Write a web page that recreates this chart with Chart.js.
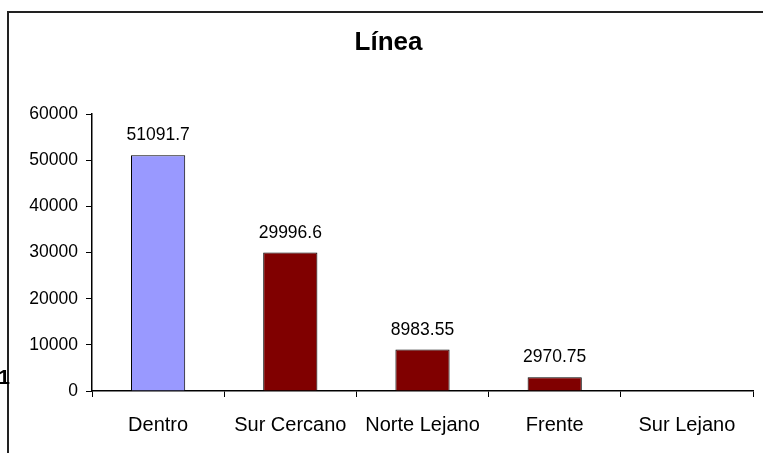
<!DOCTYPE html>
<html>
<head>
<meta charset="utf-8">
<script src="https://cdn.jsdelivr.net/npm/chart.js@4"></script>
<style>
  html, body { margin: 0; padding: 0; background: #fff; overflow: hidden; }
  #wrap { position: relative; width: 776px; height: 453px; }
</style>
</head>
<body>
<div id="wrap"><canvas id="chart" width="776" height="453"></canvas></div>
<script>
const categories = ['Dentro', 'Sur Cercano', 'Norte Lejano', 'Frente', 'Sur Lejano'];
const values = [51091.7, 29996.6, 8983.55, 2970.75, 0];
const barColors = ['#9999FF', '#800000', '#800000', '#800000', '#800000'];
const valueLabels = ['51091.7', '29996.6', '8983.55', '2970.75', ''];
const chartTitle = 'Línea';

const FONT = '"Liberation Sans", Arial, sans-serif';

// value labels above bars, outer frame and the stray clipped "1"
const extras = {
  id: 'extras',
  afterDatasetsDraw(chart) {
    const ctx = chart.ctx;
    const meta = chart.getDatasetMeta(0);
    ctx.save();
    ctx.fillStyle = '#000';
    ctx.font = '17.5px ' + FONT;
    ctx.textAlign = 'center';
    ctx.textBaseline = 'alphabetic';
    meta.data.forEach((bar, i) => {
      if (!valueLabels[i]) return;
      ctx.fillText(valueLabels[i], bar.x, bar.y - 15);
    });
    ctx.restore();
  },
  afterDraw(chart) {
    const ctx = chart.ctx;
    ctx.save();
    ctx.strokeStyle = '#222';
    ctx.lineWidth = 2;
    ctx.strokeRect(8, 12, 1000, 1000);
    ctx.fillStyle = '#000';
    ctx.font = 'bold 21px ' + FONT;
    ctx.textAlign = 'right';
    ctx.fillText('1', 10, 384);
    ctx.restore();
  }
};

new Chart(document.getElementById('chart'), {
  type: 'bar',
  data: {
    labels: categories,
    datasets: [{
      data: values,
      backgroundColor: barColors,
      borderColor: '#000',
      borderWidth: 1,
      barPercentage: 0.41,
      categoryPercentage: 1
    }]
  },
  options: {
    responsive: false,
    animation: false,
    layout: { padding: { left: 24, right: 23, top: 0, bottom: 0 } },
    plugins: {
      legend: { display: false },
      tooltip: { enabled: false },
      title: {
        display: true,
        text: chartTitle,
        color: '#000',
        font: { family: FONT, size: 26, weight: 'bold' },
        padding: { top: 27, bottom: 56 }
      }
    },
    scales: {
      x: {
        afterFit(scale) { scale.height = 62; },
        grid: { drawOnChartArea: false, drawTicks: true, tickLength: 6, color: '#000', offset: true },
        border: { color: '#000', width: 1.5 },
        ticks: { color: '#000', font: { family: FONT, size: 20 }, padding: 16, maxRotation: 0 }
      },
      y: {
        min: 0,
        max: 60000,
        afterFit(scale) { scale.width = 68; },
        grid: { drawOnChartArea: false, drawTicks: true, tickLength: 6, color: '#000' },
        border: { color: '#000', width: 1.5 },
        ticks: {
          stepSize: 10000, color: '#000', font: { family: FONT, size: 17.5 }, padding: 8,
          callback: v => String(v)
        }
      }
    }
  },
  plugins: [extras]
});
</script>
</body>
</html>
